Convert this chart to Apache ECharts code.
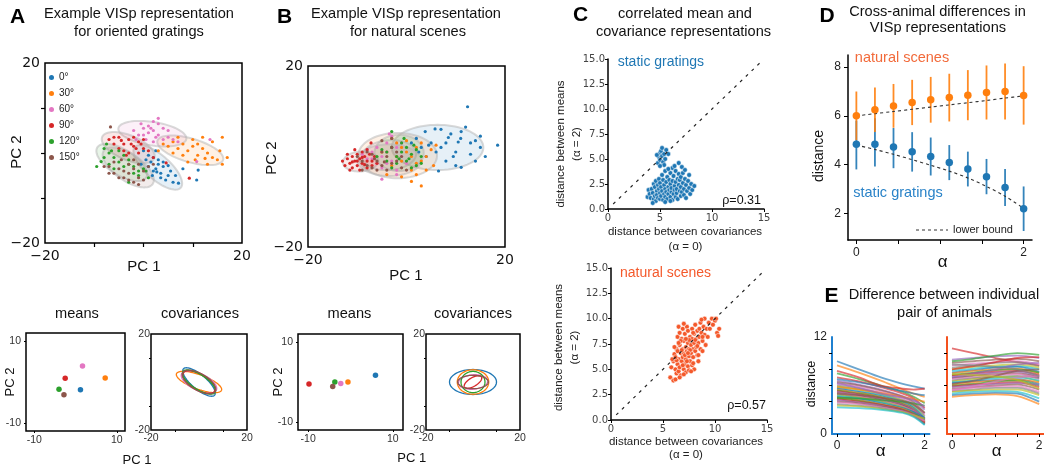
<!DOCTYPE html>
<html><head><meta charset="utf-8">
<script src="https://cdn.jsdelivr.net/npm/echarts@6/dist/echarts.min.js"></script>
<style>html,body{margin:0;padding:0;background:#fff}#c{width:1044px;height:465px}</style>
</head><body><div id="c"></div>
<script>
// ---------------- DATA ----------------
const classNames = ['0°','30°','60°','90°','120°','150°'];
const classColors = ['#1f77b4','#ff7f0e','#e377c2','#d62728','#2ca02c','#8c564b'];
const tab10 = ['#1f77b4','#ff7f0e','#2ca02c','#d62728','#9467bd','#8c564b','#e377c2','#7f7f7f','#bcbd22','#17becf'];

// Panel A: oriented gratings, PC1/PC2 points per orientation
const gratPts0 = [[0,0.5],[1,-0.5],[2,-1],[1.5,-2],[3,-2.5],[2.5,-3.5],[4,-3],[3.5,-4.5],[5,-5],[4.5,-6],[6,-6.5],[7.1,-6.7],[2,-4],[0.5,-1.5],[3,-1.5],[5.5,-4],[1,-3],[6.5,-5],[11.1,-3.8],[10.8,-6],[8,-3.5],[4,-2],[-0.5,-2.5],[2.5,0.5],[3.5,-5.5],[5,-2.8],[1.8,-5],[2.7,-4.2]];
const gratPts1 = [[4,2],[5,1.5],[6,2.5],[7,1],[8,2],[9,0.5],[10,1.5],[11,-0.5],[12,1],[13,0],[14,-1],[15,-1.5],[16,-2.5],[8,-0.5],[10,3],[12,3.5],[14,2.5],[6,0],[11,2],[13,-2.5],[9,-2],[15.5,0.5],[7,3.5],[17,-1],[16,3.5],[3,0.5],[12.5,-1.2],[10.5,-1.5]];
const gratPts2 = [[-2,5],[-1,4],[0,5.5],[1,4.5],[2,5],[3,4],[4,5.5],[5,3.5],[1,6],[2,7],[3,6.5],[0.5,3],[-0.5,6.5],[4,3],[6,3],[2.5,3.5],[3,7.7],[1.5,5.5],[-1.5,3],[7,2.5],[13.5,3],[10.8,-1.9],[2,2.5],[0,4],[5,5]];
const gratPts3 = [[-7,3],[-6,2],[-5,3.5],[-4,2],[-3,3],[-2,1.5],[-1,2.5],[0,1],[-3,0],[-5,1],[-2,3.5],[-1,0],[1,0.5],[-4,0.5],[-6,3.5],[-0.5,2],[-2.5,2],[0,3],[-3.5,-0.5],[9.3,-5.6],[4.6,-2.2],[2,-1],[-4.5,2.8],[-1.5,1]];
const gratPts4 = [[-8,-1],[-7,0],[-8.6,-1.9],[-7,-2.5],[-6,-1],[-5,-2],[-4,-3],[-3,-1.5],[-2,-3],[-1,-4],[-5,0.5],[-8,1],[-6,-3.5],[-3,-2.5],[-4,-0.5],[0,-3.5],[-1,-5],[-2,-4.5],[-9.5,-3],[-6.5,0.5],[1,-5.5],[0.5,-4],[-7.5,2],[-3,-6.5]];
const gratPts5 = [[-7,-3],[-6,-2],[-5,-3.5],[-4,-4],[-3,-2.5],[-2,-3.5],[-1,-2.5],[0,-4],[-4,-5.5],[-3,-6],[-2,-6.5],[-1,-5.5],[1,-3],[-6,-4.5],[-5,-5.5],[-3,-4.5],[-2,-1.5],[0,-6],[-8,-3],[-7,-4.5],[2,-2.5],[-1,-7],[-6.7,5.8],[-4.5,-1.5]];
// ellipses [cx, cy, semiMajor, semiMinor, angleDeg]
const gratEllipses = [[2.9,-3.2,6.5,2.6,-45],[9.5,0.6,7,2.6,-18],[1.8,4.3,7,2.6,-10],[-3.1,1.2,5.8,2.7,-25],[-4.4,-2.1,6,2.8,-35],[-3.1,-3.2,6.2,2.9,-38]];

// Panel B: natural scenes
const scenePts0 = [[1,3],[2,4],[3,2],[3.8,5.5],[5,3],[5.8,6.1],[7,6],[8,3],[9,5],[10,1],[11,4],[11.1,5.5],[12.4,11],[13,3],[14,3.5],[15,2],[6,1],[8,-1],[10,-2],[11.1,-2.4],[14,-1],[6.5,-3.2],[4,0],[16,0],[18.5,2.5],[7,2],[9.5,0],[12,6.5],[15,4.5],[13,0.5],[8.5,4.2],[10.5,3.2],[2.5,1],[4.5,2.5]];
const scenePts1 = [[-5,1],[-3,-2],[-2,3],[-1,-1],[0,1],[1,-3],[2,2],[3,-1],[4,0],[5,1.5],[-4,-4],[-1,-4.5],[2,-4],[0,3.5],[4,-3],[3,3],[-2,0],[1,0],[6,2.5],[-3,4],[1,-5.5],[3,-6.5],[-4,1],[5.5,-2],[2,-1.5],[-1,2]];
const scenePts2 = [[-9,0.5],[-8,1.5],[-7,-0.5],[-6,2],[-5,0],[-4,3],[-3,-1],[-2,2],[-1,0],[0,-1.5],[-5,-2.5],[-3,4.5],[-6,-1.5],[-2,-3],[-4,1],[-7,1],[-1,3],[-5,-5],[-3.5,5],[-2,-4],[-4,-1.5],[-8,-0.5]];
const scenePts3 = [[-13,-1],[-12,-0.5],[-11.5,-1.5],[-11,0],[-10.5,-1],[-10,-2],[-10,0.5],[-9.5,-0.5],[-9,-1.5],[-9,1],[-8.5,0],[-8,-1],[-8,-2.5],[-7.5,0.5],[-7,-1],[-6.5,0],[-12.5,-2],[-11,-2.5],[-9.5,-3],[-10.5,1.5],[-8,1.5],[-7,-2],[-12,0.5],[-6,-1.5],[-7.2,3],[-11.5,-3],[-10,-1],[-9,-0.2],[-11,-1.2],[-8.5,-1.8]];
const scenePts4 = [[-6,0],[-5,1.5],[-4,-1],[-3,2],[-2,0],[-1,1],[0,-1],[1,0.5],[2,-2],[3,0],[-3,-2.5],[-1,3],[0,2],[1,-2.5],[2,1.5],[-2,-1.5],[-4,1],[0.5,-0.5],[-0.5,4],[3,-1.5],[-3,5.5],[1.5,2.5],[-1.5,-0.5]];
const scenePts5 = [[-10,0],[-9,-1],[-8,-2],[-7,0.5],[-6,-1],[-5,-2],[-4,0],[-3,-1.5],[-2,1],[-1,-2.5],[-7,-2.5],[-5,1],[-3,2],[-6,-3],[-4,-3],[-2,-1],[-8,1],[-1,0],[0,-3],[-9,-3],[-5,3.5],[-3,4],[-6.5,-0.5],[-4.5,-1.2]];
const sceneEllipses = [[6.3,2.0,9.3,5.0,0],[-1.8,0.2,8,5,0],[-3.5,0.3,5.5,3.3,5],[-9.3,-1.1,3.6,2.2,5],[-1.5,0.8,5,4,0],[-3.5,-0.8,6.5,3.5,0]];

// bottom small panels: means and covariance ellipses [semiMajor, semiMinor, angleDeg]
const gratMeans = [[1.2,-1.9],[7.2,1.0],[1.7,3.9],[-2.5,0.9],[-4.0,-1.8],[-2.8,-3.1]];
const sceneMeans = [[5.9,1.7],[-0.6,0],[-2.3,-0.4],[-9.8,-0.5],[-3.7,0],[-4.2,-1.1]];
const gratCov = [[8.5,3,-40],[10,3,-20],[8,3.5,-25],[7.5,3.2,-30],[8,3,-33],[7.8,3.5,-30]];
const sceneCov = [[10,5.2,0],[6.7,5.1,0],[6.2,3.0,5],[4.2,1.8,30],[5.1,4.4,0],[6.5,2.8,0]];

// Panel C: distance between covariances (x) vs means (y)
const sgCorr = [[3.8,1.2],[3.9,1.9],[4.0,1.5],[4.1,1.1],[4.2,2.0],[4.3,1.6],[4.4,2.5],[4.4,1.0],[4.5,1.3],[4.5,2.2],[4.6,2.8],[4.6,0.8],[4.7,1.8],[4.7,1.4],[4.8,2.4],[4.8,1.1],[4.9,2.0],[4.9,3.0],[5.0,1.6],[5.0,2.6],[5.0,1.0],[5.1,1.3],[5.1,2.2],[5.2,3.4],[5.2,1.8],[5.3,2.9],[5.3,0.9],[5.4,1.5],[5.4,2.4],[5.5,2.0],[5.5,3.8],[5.5,1.2],[5.6,2.7],[5.6,1.7],[5.7,3.2],[5.7,1.0],[5.8,2.2],[5.8,1.5],[5.9,2.9],[5.9,1.9],[6.0,2.5],[6.0,1.2],[6.0,3.6],[6.1,1.7],[6.1,2.1],[6.2,2.8],[6.2,0.9],[6.2,4.1],[6.3,1.5],[6.3,3.3],[6.4,2.3],[6.4,1.9],[6.5,2.7],[6.5,1.2],[6.5,3.8],[6.6,1.6],[6.6,2.0],[6.7,3.0],[6.7,1.0],[6.8,2.4],[6.8,3.5],[6.8,4.6],[6.9,1.8],[6.9,2.9],[7.0,2.2],[7.0,1.3],[7.0,3.2],[7.1,4.2],[7.1,1.7],[7.2,2.6],[7.2,3.6],[7.3,1.4],[7.3,2.0],[7.4,3.0],[7.5,2.4],[7.5,1.1],[7.6,1.8],[7.7,2.8],[7.8,3.4],[7.8,2.1],[7.9,1.5],[8.0,2.5],[8.1,1.9],[8.3,2.3],[7.4,3.9],[6.4,4.3],[5.8,4.0],[6.0,0.8],[5.5,0.7],[4.3,0.6],[4.8,4.6],[4.9,5.2],[5.0,5.6],[5.0,4.9],[5.1,5.8],[5.2,5.3],[5.2,6.1],[5.3,4.7],[5.4,5.5],[5.5,5.0],[4.7,5.4],[5.6,5.9],[5.4,4.4],[5.0,4.3],[5.8,5.5]];
const nsCorr = [[5.7,4.2],[6.0,3.9],[6.2,4.0],[5.8,5.2],[6.0,5.8],[6.1,6.5],[6.2,5.0],[6.3,4.6],[6.3,7.0],[6.4,5.5],[6.4,8.2],[6.5,6.0],[6.5,4.8],[6.5,9.2],[6.6,7.4],[6.6,5.2],[6.7,6.6],[6.7,4.4],[6.8,8.0],[6.8,5.8],[6.9,7.0],[6.9,6.2],[6.9,9.0],[7.0,5.0],[7.0,7.8],[7.0,6.6],[7.1,5.5],[7.1,8.5],[7.2,6.0],[7.2,7.2],[7.2,4.7],[7.3,6.8],[7.3,9.2],[7.4,5.3],[7.4,7.6],[7.4,8.8],[7.5,6.3],[7.5,7.0],[7.5,4.9],[7.6,8.2],[7.6,5.8],[7.7,7.4],[7.7,6.6],[7.8,9.0],[7.8,5.4],[7.8,8.0],[7.9,7.0],[7.9,6.2],[8.0,8.5],[8.0,7.6],[8.0,5.0],[8.1,6.8],[8.1,9.4],[8.2,7.2],[8.2,8.0],[8.3,6.4],[8.3,8.8],[8.4,7.6],[8.4,5.8],[8.5,9.0],[8.5,8.2],[8.6,7.0],[8.6,9.6],[8.7,8.6],[8.8,7.8],[8.8,6.8],[8.9,9.2],[9.0,8.4],[9.0,10.0],[9.1,7.4],[9.2,9.0],[9.3,8.2],[9.4,9.6],[9.5,9.0],[9.7,10.0],[10.0,9.8],[10.2,8.6],[10.4,9.0],[10.3,8.3],[9.8,9.4],[10.1,10.0],[6.1,7.2],[6.6,8.6],[7.0,9.5],[5.9,6.0],[6.3,5.9],[6.8,6.9],[7.1,6.4],[7.6,6.9],[8.1,7.9],[7.3,5.8],[6.7,7.8],[7.9,8.6],[8.7,9.9],[6.4,6.8],[6.9,5.4],[7.5,7.9],[8.3,7.3],[7.0,4.5],[6.6,4.2],[7.7,4.8],[8.4,6.4],[6.2,6.2],[7.4,6.6],[7.9,5.6],[8.8,8.2],[6.5,7.6],[7.2,8.0]];
const diagLine = [[0.5,0.5],[14.8,14.8]];

// Panel D: cross-animal distance vs alpha
const alphaVals = [0,0.222,0.444,0.667,0.889,1.111,1.333,1.556,1.778,2];
const nsMean = [6.0,6.25,6.41,6.55,6.66,6.75,6.85,6.96,7.0,6.84];
const nsHigh = [7.0,7.16,7.31,7.48,7.6,7.73,7.88,8.07,8.15,8.04];
const nsLow  = [5.0,5.34,5.51,5.62,5.72,5.77,5.82,5.85,5.85,5.64];
const sgMean = [4.83,4.83,4.72,4.53,4.33,4.08,3.82,3.5,3.06,2.18];
const sgHigh = [5.8,5.9,5.5,5.33,5.11,4.8,4.53,4.23,3.82,3.1];
const sgLow  = [3.8,3.92,3.85,3.71,3.55,3.36,3.1,2.78,2.3,1.27];
const nsBound = [6.0,6.09,6.18,6.27,6.36,6.45,6.54,6.63,6.73,6.82];
const sgBound = [4.8,4.62,4.42,4.2,3.97,3.73,3.45,3.1,2.7,2.2];

// Panel E: individual animal pairs
const eAlphaSG = [0,0.5,1,1.5,1.75,2];
const eAlphaNS = [0,0.5,1,1.5,2];
const sgPairs = [[9.0,8.0,7.0,6.2,5.9,5.6],[8.5,7.6,6.6,5.5,5.0,4.6],[7.5,6.8,6.0,5.2,4.6,3.8],[7.0,6.5,5.8,5.0,4.4,3.2],[6.6,6.1,5.5,4.7,4.1,3.0],[6.4,6.0,5.4,4.6,3.9,2.6],[6.2,5.8,5.2,4.4,3.7,2.4],[6.0,5.6,5.0,4.2,3.6,2.2],[5.9,5.5,4.9,4.1,3.4,2.0],[5.7,5.3,4.8,4.0,3.3,1.9],[5.6,5.2,4.7,3.9,3.2,1.8],[5.5,5.1,4.6,3.8,3.1,1.7],[5.4,5.0,4.5,3.7,3.0,1.6],[5.3,4.9,4.4,3.6,2.9,1.5],[5.2,4.8,4.3,3.6,3.0,1.9],[5.1,4.7,4.2,3.5,2.8,1.4],[5.0,4.6,4.1,3.4,2.8,1.7],[4.9,4.5,4.0,3.3,2.7,1.3],[4.8,4.5,4.0,3.3,2.6,1.6],[4.7,4.4,3.9,3.2,2.6,1.2],[4.6,4.3,3.8,3.2,2.7,2.0],[4.5,4.2,3.7,3.1,2.5,1.5],[4.4,4.1,3.6,3.0,2.5,1.8],[4.3,4.0,3.6,3.0,2.4,1.4],[4.2,3.9,3.5,2.9,2.4,1.7],[4.0,3.8,3.4,2.9,2.3,1.3],[3.9,3.7,3.3,2.8,2.3,1.6],[3.7,3.5,3.2,2.7,2.2,1.2],[3.5,3.4,3.1,2.7,2.3,1.9],[3.3,3.2,3.0,2.6,2.1,1.1],[6.8,6.4,5.9,5.3,5.0,4.8],[5.8,5.5,5.1,4.6,4.3,4.0],[4.5,4.4,4.2,4.0,3.8,3.5],[7.8,7.0,6.0,5.6,5.5,5.6],[6.3,5.7,5.0,4.5,4.2,3.4],[5.0,4.8,4.5,4.1,3.6,2.6]];
const nsPairs = [[10.6,10.0,9.4,8.9,8.5],[9.2,9.4,9.6,9.7,9.4],[8.8,9.0,9.2,9.3,9.0],[8.5,8.7,8.9,9.0,8.6],[8.2,8.5,8.8,8.9,8.4],[8.0,8.3,8.5,8.6,8.2],[7.8,8.1,8.3,8.4,8.0],[7.6,7.9,8.2,8.3,7.7],[7.5,7.8,8.0,8.1,7.5],[7.3,7.6,7.9,8.0,7.6],[7.2,7.5,7.7,7.8,7.3],[7.0,7.3,7.6,7.7,7.1],[6.9,7.2,7.4,7.5,7.0],[6.8,7.0,7.3,7.4,6.8],[6.6,6.9,7.1,7.2,6.9],[6.5,6.8,7.0,7.1,6.5],[6.4,6.6,6.9,7.0,6.6],[6.3,6.5,6.7,6.8,6.2],[6.1,6.4,6.6,6.7,6.4],[6.0,6.2,6.5,6.6,6.0],[5.9,6.1,6.3,6.4,5.8],[5.8,6.0,6.2,6.3,6.1],[5.6,5.8,6.0,6.1,5.5],[5.5,5.7,5.9,5.9,5.2],[5.3,5.5,5.7,5.7,5.0],[5.2,5.4,5.5,5.5,4.8],[5.0,5.2,5.3,5.2,4.4],[4.8,5.0,5.1,5.0,4.0],[4.6,4.8,4.9,4.7,3.7],[9.0,9.3,9.7,10.0,9.8],[8.0,8.4,8.9,9.4,9.5],[7.0,7.5,8.0,8.6,8.8],[6.2,6.6,7.2,7.8,8.0],[5.4,5.9,6.5,7.0,7.2],[8.6,8.5,8.3,8.0,7.2],[7.4,7.3,7.1,6.7,5.6]];

// ---------------- CHART ----------------
const gratPts = [gratPts0,gratPts1,gratPts2,gratPts3,gratPts4,gratPts5];
const scenePts = [scenePts0,scenePts1,scenePts2,scenePts3,scenePts4,scenePts5];
const TXT = 'Liberation Sans', DJ = 'DejaVu Sans';
const SG_BLUE = '#1f77b4', NS_RED = '#f4592b';
function rgba(hex,a){const n=parseInt(hex.slice(1),16);return 'rgba('+(n>>16)+','+((n>>8)&255)+','+(n&255)+','+a+')';}
const minus = v => (v<0 ? '\u2212'+Math.abs(v) : String(v));

const box = {show:true, borderColor:'#000', borderWidth:1.5, backgroundColor:'transparent'};
function G(o, b){return Object.assign({containLabel:false, outerBoundsMode:'none'}, o, b ? box : {show:false});}
const grids = [
  G({left:45, top:63, width:197, height:180}, true),
  G({left:308, top:66, width:197, height:181}, true),
  G({left:608, top:59, width:156, height:150}),
  G({left:611, top:268, width:156, height:152}),
  G({left:848, top:55, width:184, height:185}),
  G({left:832, top:337, width:97.5, height:97}),
  G({left:947, top:337, width:97, height:97}),
  G({left:26, top:333, width:99, height:98}, true),
  G({left:151, top:334, width:96, height:96}, true),
  G({left:298, top:334, width:105, height:96}, true),
  G({left:426, top:334, width:94, height:96}, true)
];

function axis(gi, min, max, o){
  const base = {gridIndex:gi, type:'value', min:min, max:max, splitLine:{show:false},
    axisLine:{show:false, onZero:false}, axisTick:{show:false}, axisLabel:{show:false}};
  return Object.assign(base, o||{});
}
const tickS = (vals,len,w) => ({show:true, customValues:vals, length:len, inside:false, lineStyle:{color:'#000', width:w||1}});
const lab = (vals, fs, ff, col, margin, fmt) => ({show:true, customValues:vals, fontSize:fs, fontFamily:ff, color:col, margin:margin, formatter:fmt, showMinLabel:true, showMaxLabel:true});
const spine = (c,w) => ({show:true, onZero:false, lineStyle:{color:c, width:w}});
const noLine = {show:false, onZero:false};

const xAxes = [
  axis(0,-20,20,{axisTick:tickS([-10,0,10],4,1.2), axisLabel:lab([-20,20],14,DJ,'#111',6,minus)}),
  axis(1,-20,20,{axisLabel:lab([-20,20],14,DJ,'#111',6,minus)}),
  axis(2,0,15,{axisLine:spine('#000',1.5), axisTick:tickS([0,5,10,15],3), axisLabel:lab([0,5,10,15],10,DJ,'#444',4)}),
  axis(3,0,15,{axisLine:spine('#000',1.5), axisTick:tickS([0,5,10,15],3), axisLabel:lab([0,5,10,15],10,DJ,'#444',4)}),
  axis(4,-0.1,2.1,{axisLine:spine('#000',1.5), axisTick:tickS([0,0.5,1,1.5,2],4), axisLabel:lab([0,2],12,TXT,'#222',7)}),
  axis(5,-0.114,2.11,{axisLine:spine('#1f80d0',2), axisTick:tickS([0,0.5,1,1.5,2],3), axisLabel:lab([0,2],12,TXT,'#222',6)}),
  axis(6,-0.114,2.11,{axisLine:spine('#f4511e',2), axisTick:tickS([0,0.5,1,1.5,2],3), axisLabel:lab([0,2],12,TXT,'#222',6)}),
  axis(7,-12,12,{axisTick:tickS([-10,10],2), axisLabel:lab([-10,10],10.5,TXT,'#333',4)}),
  axis(8,-20,20,{axisTick:tickS([-10,10],2), axisLabel:lab([-20,20],10.5,TXT,'#333',3)}),
  axis(9,-12.4,12.4,{axisTick:tickS([-10,10],2), axisLabel:lab([-10,10],10.5,TXT,'#333',4)}),
  axis(10,-20,20,{axisTick:tickS([-10,10],2), axisLabel:lab([-20,20],10.5,TXT,'#333',3)})
];
const yAxes = [
  axis(0,-20,20,{axisTick:tickS([-10,0,10],4,1.2), axisLabel:lab([-20,20],14,DJ,'#111',5,minus)}),
  axis(1,-20,20,{axisLabel:lab([-20,20],14,DJ,'#111',5,minus)}),
  axis(2,0,15,{axisLine:spine('#000',1.5), axisTick:tickS([0,2.5,5,7.5,10,12.5,15],3), axisLabel:lab([0,2.5,5,7.5,10,12.5,15],10,DJ,'#444',3,v=>v.toFixed(1))}),
  axis(3,0,15,{axisLine:spine('#000',1.5), axisTick:tickS([0,2.5,5,7.5,10,12.5,15],3), axisLabel:lab([0,2.5,5,7.5,10,12.5,15],10,DJ,'#444',3,v=>v.toFixed(1))}),
  axis(4,0.9,8.5,{axisLine:spine('#000',1.5), axisTick:tickS([2,4,6,8],4), axisLabel:lab([2,4,6,8],12,TXT,'#222',7)}),
  axis(5,0,12,{axisLine:spine('#1f80d0',2), axisTick:tickS([2,4,6,8,10],3), axisLabel:lab([0,12],12,TXT,'#222',5)}),
  axis(6,0,12,{axisLine:spine('#f4511e',2), axisTick:tickS([2,4,6,8,10],3)}),
  axis(7,-12,12,{axisTick:tickS([-10,10],2), axisLabel:lab([-10,10],10.5,TXT,'#333',5)}),
  axis(8,-20,20,{axisTick:tickS([-10,10],2), axisLabel:lab([-20,20],10.5,TXT,'#333',1)}),
  axis(9,-12,12,{axisTick:tickS([-10,10],2), axisLabel:lab([-10,10],10.5,TXT,'#333',5)}),
  axis(10,-20,20,{axisTick:tickS([-10,10],2), axisLabel:lab([-20,20],10.5,TXT,'#333',1)})
];

function ellipseRender(filled, lw){
  return function(params, api){
    const cx=api.value(0), cy=api.value(1), a=api.value(2), b=api.value(3), th=api.value(4)*Math.PI/180, ci=api.value(5);
    const pts=[];
    for(let k=0;k<80;k++){
      const t=2*Math.PI*k/80;
      pts.push(api.coord([cx+a*Math.cos(th)*Math.cos(t)-b*Math.sin(th)*Math.sin(t),
                          cy+a*Math.sin(th)*Math.cos(t)+b*Math.cos(th)*Math.sin(t)]));
    }
    const col = classColors[ci];
    return {type:'polygon', shape:{points:pts},
      style: filled ? {fill:rgba(col,0.11), stroke:'rgba(180,180,180,0.5)', lineWidth:lw}
                    : {fill:'none', stroke:col, lineWidth:lw}};
  };
}
function errRender(color){
  return function(params, api){
    const p1=api.coord([api.value(0),api.value(1)]), p2=api.coord([api.value(0),api.value(2)]);
    return {type:'line', shape:{x1:p1[0],y1:p1[1],x2:p2[0],y2:p2[1]}, style:{stroke:color, lineWidth:1.8, opacity:0.9}};
  };
}

const series = [];
series.push({type:'custom', xAxisIndex:0, yAxisIndex:0, z:1, silent:true, renderItem:ellipseRender(true,2),
  data: gratEllipses.map((e,i)=>e.concat([i]))});
gratPts.forEach((pts,i)=>series.push({type:'scatter', name:classNames[i], xAxisIndex:0, yAxisIndex:0, z:3, symbolSize:3.2,
  itemStyle:{color:classColors[i], opacity:1}, data:pts}));
series.push({type:'custom', xAxisIndex:1, yAxisIndex:1, z:1, silent:true, renderItem:ellipseRender(true,2),
  data: sceneEllipses.map((e,i)=>e.concat([i]))});
scenePts.forEach((pts,i)=>series.push({type:'scatter', name:'NS '+classNames[i], xAxisIndex:1, yAxisIndex:1, z:3, symbolSize:3.2,
  itemStyle:{color:classColors[i], opacity:1}, data:pts}));

// C
[[2,sgCorr,SG_BLUE],[3,nsCorr,NS_RED]].forEach(([gi,pts,col])=>{
  series.push({type:'line', xAxisIndex:gi, yAxisIndex:gi, data:diagLine, symbol:'none', silent:true, z:4,
    lineStyle:{color:'#222', width:1.2, type:[3,5]}});
  series.push({type:'scatter', xAxisIndex:gi, yAxisIndex:gi, data:pts, symbolSize:4.8, z:3,
    itemStyle:{color:col, borderColor:'#fff', borderWidth:0.5, opacity:1}});
});

// D
series.push({type:'custom', xAxisIndex:4, yAxisIndex:4, silent:true, z:2, renderItem:errRender(SG_BLUE),
  data: alphaVals.map((a,i)=>[a, sgLow[i], sgHigh[i]])});
series.push({type:'custom', xAxisIndex:4, yAxisIndex:4, silent:true, z:2, renderItem:errRender('#ff7f0e'),
  data: alphaVals.map((a,i)=>[a, nsLow[i], nsHigh[i]])});
series.push({type:'line', xAxisIndex:4, yAxisIndex:4, silent:true, z:4, symbol:'none', smooth:0.3,
  data: alphaVals.map((a,i)=>[a, sgBound[i]]), lineStyle:{color:'#333', width:1.1, type:[3,3]}});
series.push({type:'line', xAxisIndex:4, yAxisIndex:4, silent:true, z:4, symbol:'none', smooth:0.3,
  data: alphaVals.map((a,i)=>[a, nsBound[i]]), lineStyle:{color:'#333', width:1.1, type:[3,3]}});
series.push({type:'scatter', xAxisIndex:4, yAxisIndex:4, z:5, symbolSize:7.5, itemStyle:{color:SG_BLUE, opacity:1},
  data: alphaVals.map((a,i)=>[a, sgMean[i]])});
series.push({type:'scatter', xAxisIndex:4, yAxisIndex:4, z:5, symbolSize:7.5, itemStyle:{color:'#ff7f0e', opacity:1},
  data: alphaVals.map((a,i)=>[a, nsMean[i]])});

// E
sgPairs.forEach((vals,i)=>series.push({type:'line', xAxisIndex:5, yAxisIndex:5, silent:true, symbol:'none', smooth:0.3, z:2,
  data: vals.map((v,j)=>[eAlphaSG[j], v]), lineStyle:{width:1.8, color:tab10[i%10], opacity:0.65}}));
nsPairs.forEach((vals,i)=>series.push({type:'line', xAxisIndex:6, yAxisIndex:6, silent:true, symbol:'none', smooth:0.3, z:2,
  data: vals.map((v,j)=>[eAlphaNS[j], v]), lineStyle:{width:1.8, color:tab10[(i+3)%10], opacity:0.65}}));

// bottom panels
series.push({type:'scatter', xAxisIndex:7, yAxisIndex:7, symbolSize:5.5, z:3,
  data: gratMeans.map((p,i)=>({value:p, itemStyle:{color:classColors[i], opacity:1}}))});
series.push({type:'custom', xAxisIndex:8, yAxisIndex:8, silent:true, z:2, renderItem:ellipseRender(false,1.3),
  data: gratCov.map((e,i)=>[0,0].concat(e,[i]))});
series.push({type:'scatter', xAxisIndex:9, yAxisIndex:9, symbolSize:5.5, z:3,
  data: sceneMeans.map((p,i)=>({value:p, itemStyle:{color:classColors[i], opacity:1}}))});
series.push({type:'custom', xAxisIndex:10, yAxisIndex:10, silent:true, z:2, renderItem:ellipseRender(false,1.3),
  data: sceneCov.map((e,i)=>[0,0].concat(e,[i]))});

// text
function T(x,y,text,o){
  o=o||{};
  return {type:'text', x:x, y:y, rotation:o.rot||0, silent:true, z:10,
    style:{text:text, fontSize:o.fs||14.6, fontFamily:o.ff||TXT, fontWeight:o.fw||'normal', fill:o.col||'#111',
      align:o.al||'center', verticalAlign:'middle', lineHeight:o.lh||16}};
}
const BOLD={fs:21, fw:'bold', col:'#000'};
const R=Math.PI/2;
const graphic = [
  T(17.5,17.5,'A',BOLD), T(284.7,17.5,'B',BOLD), T(580.5,15.5,'C',BOLD), T(827,16.5,'D',BOLD), T(831.5,296,'E',BOLD),
  T(139,14,'Example VISp representation'), T(139,32,'for oriented gratings'),
  T(406,14,'Example VISp representation'), T(408,32,'for natural scenes'),
  T(685,14,'correlated mean and'), T(683.5,32,'covariance representations'),
  T(937.5,11.7,'Cross-animal differences in'), T(938,28.3,'VISp representations'),
  T(944,295,'Difference between individual'), T(944.5,312.7,'pair of animals'),
  T(77,314,'means'), T(200,314,'covariances'), T(349.5,314,'means'), T(473,314,'covariances'),
  T(143.8,266.7,'PC 1',{fs:15}), T(16.7,152,'PC 2',{fs:15,rot:R}),
  T(405.8,276,'PC 1',{fs:15}), T(271.7,158,'PC 2',{fs:15,rot:R}),
  T(568.5,144,'distance between means\n(α = 2)',{fs:11.5,rot:R,col:'#222'}),
  T(685,231.7,'distance between covariances',{fs:11.5,col:'#222'}), T(685.5,247.3,'(α = 0)',{fs:11.5,col:'#222'}),
  T(567,347.5,'distance between means\n(α = 2)',{fs:11.5,rot:R,col:'#222'}),
  T(686,441.7,'distance between covariances',{fs:11.5,col:'#222'}), T(686,455,'(α = 0)',{fs:11.5,col:'#222'}),
  T(617.7,62,'static gratings',{fs:14,col:SG_BLUE,al:'left'}), T(761,201,'ρ=0.31',{fs:12.5,al:'right'}),
  T(620,273,'natural scenes',{fs:14,col:NS_RED,al:'left'}), T(766,405.7,'ρ=0.57',{fs:12.5,al:'right'}),
  T(902,58.3,'natural scenes',{fs:14.5,col:'#f26a3a'}), T(898,192.7,'static gratings',{fs:14.5,col:'#2a83c8'}),
  T(953,230,'lower bound',{fs:11,al:'left',col:'#222'}),
  {type:'line', silent:true, z:10, shape:{x1:916,y1:230,x2:948,y2:230}, style:{stroke:'#333', lineWidth:1.1, lineDash:[3,3]}},
  T(819,156,'distance',{fs:14,rot:R}), T(942.7,262,'α',{fs:17}),
  T(811.7,384,'distance',{fs:12.5,rot:R}), T(880.7,451.7,'α',{fs:17}), T(996.7,451.7,'α',{fs:17}),
  T(10.5,382,'PC 2',{fs:13,rot:R}), T(137,460.7,'PC 1',{fs:13}),
  T(278,382,'PC 2',{fs:13,rot:R}), T(411.7,458,'PC 1',{fs:13})
];

const chart = echarts.init(document.getElementById('c'));
chart.setOption({
  animation:false,
  backgroundColor:'#fff',
  grid: grids, xAxis: xAxes, yAxis: yAxes, series: series, graphic: graphic,
  legend:{data:classNames, orient:'vertical', left:49, top:72, itemWidth:5, itemHeight:5, itemGap:5, icon:'circle',
    padding:0, selectedMode:false, textStyle:{fontSize:10, fontFamily:TXT, color:'#222', lineHeight:11}},
  tooltip:{show:false}
});
</script></body></html>
